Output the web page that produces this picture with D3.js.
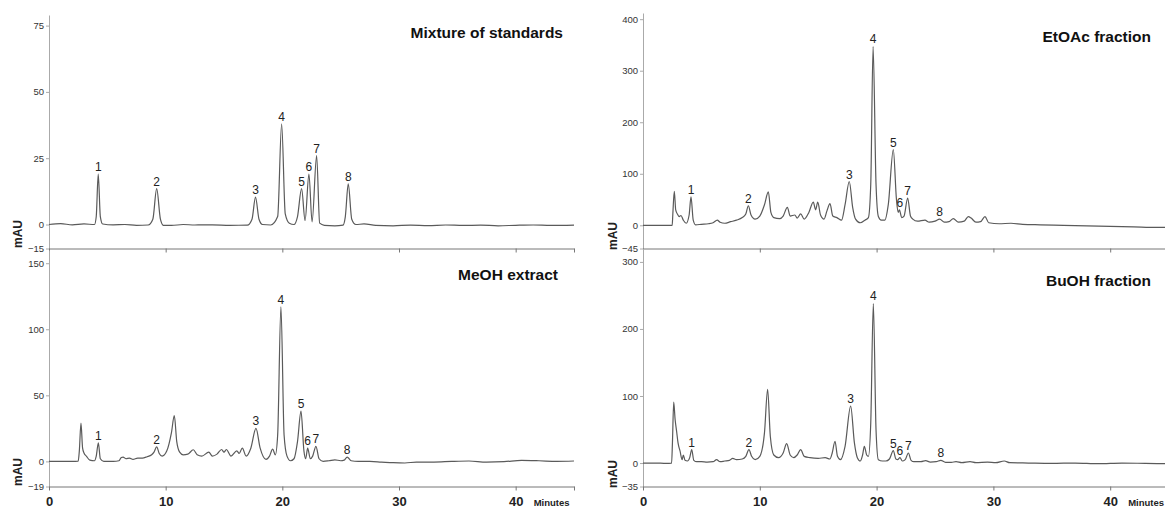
<!DOCTYPE html>
<html>
<head>
<meta charset="utf-8">
<title>HPLC chromatograms</title>
<style>
  body { margin: 0; background: #fff; }
  svg { display: block; font-family: "Liberation Sans", Arial, sans-serif; }
  .trace { fill: none; stroke: #5a5a5a; stroke-width: 1.2; stroke-linejoin: round; }
  .yaxis path, .yaxis line { stroke: #aaa; }
  .xaxis path, .xaxis line { stroke: #777; }
  .yaxis text { font-size: 9.5px; fill: #333; }
  .xaxis text { font-size: 13px; font-weight: bold; fill: #222; }
  .peak { font-size: 12px; fill: #222; text-anchor: middle; }
  .title { font-size: 15.5px; font-weight: bold; fill: #111; text-anchor: end; }
  .mau { font-size: 12px; font-weight: bold; fill: #222; text-anchor: middle; }
  .minutes { font-size: 9.5px; font-weight: bold; fill: #222; }
</style>
</head>
<body>
<script src="https://d3js.org/d3.v7.min.js"></script>
<script>
// retention time (min), absorbance (mAU)
var stdTrace = [[0,0],[1,0.3],[2,-0.2],[3,0.2],[3.9,0],[4.05,3],[4.22,19],[4.4,3],[4.6,0.2],[5.5,-0.2],[6.5,0],[7.5,-0.5],
  [8.5,-0.3],[8.9,2],[9.23,13.5],[9.55,2],[9.8,-0.5],[10.5,-0.6],[11.5,0],[12.5,-0.3],[14,-0.2],[15.5,-0.5],[17,-0.4],
  [17.4,2],[17.7,10.3],[18.0,2],[18.3,0],[19,-0.3],[19.6,3],[19.94,38],[20.25,4],[20.6,0.5],[21.0,0],[21.3,3],[21.65,13.5],
  [21.95,1.5],[22.28,19],[22.55,1],[22.94,26],[23.2,0.5],[23.6,-0.5],[24.5,-0.8],[25.2,-0.4],[25.4,3],[25.65,15.3],
  [25.95,2],[26.3,0],[27,0.2],[28,-0.5],[29.5,-0.8],[31,-0.4],[32.5,-0.7],[34,-0.3],[35.5,-0.6],[37,-0.4],[38.5,-0.8],
  [40,-0.5],[41.5,-0.3],[43,-0.6],[45,-0.4]];
var meohTrace = [[0,0],[1,0],[2,0],[2.5,0.2],[2.6,8],[2.74,29],[2.88,10],[3.0,6.3],[3.2,4],[3.5,1],[3.9,0.5],[4.05,4],
  [4.23,14],[4.4,2],[4.7,0],[5.5,0],[6.0,0.5],[6.2,3],[6.35,3.3],[6.6,2],[6.9,2.5],[7.2,1.5],[7.6,2.5],[8.0,2.5],[8.4,3.5],
  [8.8,5],[9.0,7],[9.23,11],[9.45,6],[9.7,4],[10.1,8],[10.5,22],[10.74,34.6],[10.95,15],[11.2,7],[11.5,5],[11.9,5.5],
  [12.37,8.8],[12.7,5],[13.1,4],[13.7,7],[14.0,4],[14.4,5.5],[14.8,9],[15.0,7],[15.2,9],[15.6,4],[16.1,8],[16.3,6],
  [16.57,10],[16.9,4],[17.3,10],[17.74,25],[18.1,10],[18.6,1.5],[18.9,4],[19.17,9.3],[19.4,5],[19.6,20],[19.88,117],
  [20.15,20],[20.4,4],[20.7,0.5],[21.0,2],[21.3,15],[21.6,38],[21.85,8],[22.0,2],[22.17,10],[22.4,2],[22.6,4],[22.88,11.4],
  [23.15,2],[23.5,0],[24,0.5],[24.5,1.2],[25,0.5],[25.3,1],[25.56,3.3],[25.9,0.5],[26.5,0],[27.5,0],[28.5,-0.5],[29.5,-1],
  [30.5,-1.2],[31.5,-0.5],[33,-0.5],[34.5,0],[36,0.3],[37.5,-0.5],[39,-0.2],[40.5,0.8],[42,0.5],[43.5,0],[45,0.3]];
var etoacTrace = [[0,0],[1,0],[2,0],[2.5,0],[2.55,20],[2.68,66],[2.8,30],[2.97,21],[3.1,17],[3.25,19],[3.45,10],[3.7,4],
  [3.95,20],[4.11,55],[4.3,10],[4.5,1],[5.0,2],[5.6,3],[6.0,5],[6.36,10],[6.6,6],[7.0,4],[7.5,7],[8.0,10],[8.5,15],[8.8,22],
  [9.02,38],[9.25,20],[9.6,12],[10.0,18],[10.4,40],[10.73,65],[10.95,25],[11.2,15],[11.7,13],[12.0,18],[12.36,35],[12.6,18],
  [13.0,20],[13.2,14],[13.5,22],[13.8,12],[14.2,25],[14.58,45],[14.78,30],[14.96,45],[15.2,20],[15.5,12],[15.75,28],
  [16.01,42],[16.25,18],[16.6,15],[17.0,10],[17.3,40],[17.66,85],[17.95,35],[18.2,12],[18.6,5],[19.0,10],[19.3,15],
  [19.5,80],[19.7,347],[19.95,80],[20.15,17],[20.4,10],[20.7,10],[21.0,40],[21.43,147],[21.7,50],[21.85,25],[21.95,30],
  [22.15,15],[22.35,18],[22.66,53],[22.9,18],[23.1,12],[23.5,8],[24.14,10],[24.5,6],[25.0,8],[25.4,12],[25.8,6],[26.2,7],
  [26.57,13],[27.0,6],[27.5,8],[27.85,17],[28.1,14],[28.5,6],[28.9,7],[29.28,17],[29.6,5],[30.5,3],[31.5,4],[32.5,2],
  [34,1],[36,0],[38,-1],[40,-2],[42,-3],[44,-4],[45,-4]];
var buohTrace = [[0,0],[1,0],[2,-0.5],[2.45,0],[2.52,30],[2.63,91],[2.75,65],[2.88,47],[3.0,30],[3.17,18],[3.35,5],
  [3.45,12],[3.6,4],[3.8,3],[4.0,8],[4.17,20],[4.35,4],[4.6,2],[5.0,2],[5.5,1.5],[6.0,2],[6.3,5],[6.6,2],[7.0,3],[7.4,4],
  [7.68,7],[8.0,5],[8.5,6],[8.8,10],[9.07,20],[9.3,10],[9.6,5],[10.0,10],[10.4,45],[10.67,110],[10.9,40],[11.2,12],
  [11.6,8],[12.0,15],[12.3,29],[12.6,12],[12.9,8],[13.2,12],[13.5,20],[13.8,10],[14.3,8],[15.0,7],[15.6,8],[16.0,6],
  [16.2,15],[16.44,32.5],[16.65,10],[16.9,5],[17.3,25],[17.78,85],[18.1,30],[18.35,8],[18.6,3],[18.8,12],[18.95,25],
  [19.15,12],[19.3,10],[19.5,60],[19.72,238],[19.95,50],[20.15,5],[20.5,3],[20.8,3],[21.1,6],[21.43,18.5],[21.65,6],
  [21.8,5],[22.0,8],[22.2,3],[22.45,5],[22.72,15],[22.95,4],[23.2,2],[23.8,2],[24.2,3.5],[24.6,1.5],[25.1,2],[25.5,4],
  [25.9,1],[26.4,1],[26.8,2],[27.3,0.5],[28.0,2],[28.5,0.5],[29.5,1.5],[30.2,0.5],[30.93,3],[31.4,0.5],[33,0],[35,-0.5],
  [37,0],[39,-1],[41,0],[43,-0.5],[45,-1]];

// numbered peaks: label, time, height
var stdPeaks = [["1",4.22,19],["2",9.23,13.5],["3",17.7,10.3],["4",19.94,38],["5",21.65,13.5],["6",22.28,19],["7",22.94,26],["8",25.65,15.3]];
var meohPeaks = [["1",4.23,14],["2",9.23,11],["3",17.74,25],["4",19.88,117],["5",21.6,38],["6",22.17,10],["7",22.88,11.4],["8",25.56,3.3]];
var etoacPeaks = [["1",4.11,55],["2",9.02,38],["3",17.66,85],["4",19.7,347],["5",21.43,147],["6",21.98,30],["7",22.66,53],["8",25.4,12]];
var buohPeaks = [["1",4.17,20],["2",9.07,20],["3",17.78,85],["4",19.72,238],["5",21.43,18.5],["6",22.0,8],["7",22.72,15],["8",25.5,4]];

var stdTicks = [-15, 0, 25, 50, 75];
var meohTicks = [-19, 0, 50, 100, 150];
var etoacTicks = [-45, 0, 100, 200, 300, 400];
var buohTicks = [-35, 0, 100, 200, 300];
var timeTicks = [0, 10, 20, 30, 40];

var panels = [
  {title: "Mixture of standards", trace: stdTrace, peaks: stdPeaks, ticks: stdTicks,
   yDomain: [-15, 0, 79], yRange: [248.5, 224.5, 15], xRange: [49, 574], end: true, bottom: false,
   titleX: 563, titleY: 38, mauX: 18, mauY: 234},
  {title: "MeOH extract", trace: meohTrace, peaks: meohPeaks, ticks: meohTicks,
   yDomain: [-19, 160], yRange: [486.5, 250], xRange: [49, 574], end: true, bottom: true,
   titleX: 558, titleY: 280, mauX: 18, mauY: 472},
  {title: "EtOAc fraction", trace: etoacTrace, peaks: etoacPeaks, ticks: etoacTicks,
   yDomain: [-45, 412], yRange: [248.5, 13], xRange: [643, 1168.6], end: false, bottom: false,
   titleX: 1151, titleY: 42, mauX: 613, mauY: 236},
  {title: "BuOH fraction", trace: buohTrace, peaks: buohPeaks, ticks: buohTicks,
   yDomain: [-35, 320], yRange: [486.5, 248.5], xRange: [643, 1168.6], end: false, bottom: true,
   titleX: 1151, titleY: 286, mauX: 613, mauY: 474}
];

var svg = d3.select("body").append("svg")
  .attr("width", 1165)
  .attr("height", 508);

panels.forEach(function(p) {
  var x = d3.scaleLinear().domain([0, 45]).range(p.xRange);
  var y = d3.scaleLinear().domain(p.yDomain).range(p.yRange);
  var base = p.yRange[0];
  var g = svg.append("g");

  g.append("g")
    .attr("class", "yaxis")
    .attr("transform", "translate(" + p.xRange[0] + ",0)")
    .call(d3.axisLeft(y).tickValues(p.ticks).tickSize(3).tickSizeOuter(0).tickPadding(2).tickFormat(d3.format("d")));

  var xt = p.end ? timeTicks.concat([45]) : timeTicks;
  g.append("g")
    .attr("class", "xaxis")
    .attr("transform", "translate(0," + base + ")")
    .call(d3.axisBottom(x).tickValues(xt).tickSize(4).tickSizeOuter(0).tickPadding(6)
      .tickFormat(function(d) { return p.bottom && d < 45 ? d : ""; }));

  var line = d3.line()
    .x(d => x(d[0]))
    .y(d => y(d[1]))
    .curve(d3.curveMonotoneX);

  g.append("path")
    .datum(p.trace)
    .attr("class", "trace")
    .attr("d", line);

  g.selectAll(".peak")
    .data(p.peaks)
    .enter()
    .append("text")
    .attr("class", "peak")
    .attr("x", d => x(d[1]))
    .attr("y", d => y(d[2]) - 3)
    .text(d => d[0]);

  g.append("text")
    .attr("class", "title")
    .attr("x", p.titleX)
    .attr("y", p.titleY)
    .text(p.title);

  g.append("text")
    .attr("class", "mau")
    .attr("transform", "translate(" + p.mauX + "," + p.mauY + ") rotate(-90)")
    .attr("dy", "0.35em")
    .text("mAU");

  if (p.bottom) {
    g.append("text")
      .attr("class", "minutes")
      .attr("x", x(40) + 18)
      .attr("y", 506)
      .text("Minutes");
  }
});
</script>
</body>
</html>
